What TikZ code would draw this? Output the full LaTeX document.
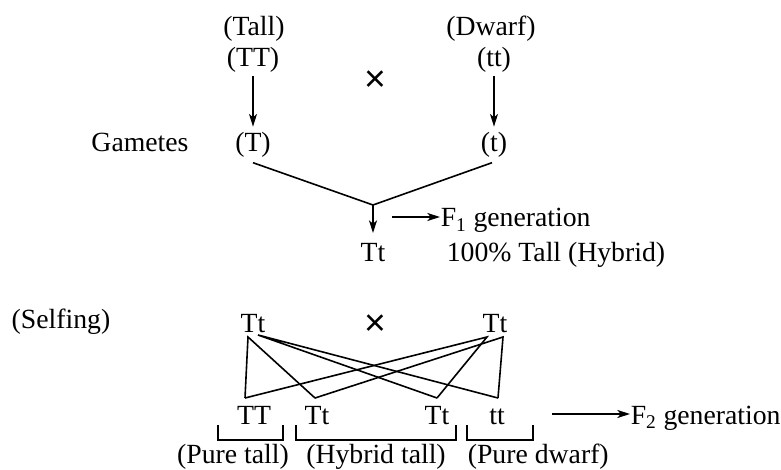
\documentclass[tikz,border=0pt]{standalone}
\usepackage{fontspec}
\setmainfont{Liberation Serif}
\setsansfont{Liberation Sans}
\usetikzlibrary{arrows.meta}
\begin{document}
\begin{tikzpicture}[x=0.75pt,y=-0.75pt,line width=1.2pt,line join=miter,font=\fontsize{20.8}{25}\selectfont,>={Stealth[length=9.5pt,width=6pt,inset=2.5pt]}]
	\useasboundingbox (0,0) rectangle (781,470);
	\tikzset{txt/.style={inner sep=0pt,anchor=base},
		crs/.style={inner sep=0pt,font=\sffamily\fontsize{28}{28}\selectfont}}
	\node[txt] (tall) at (254,36) {(Tall)};
	\node[txt] (dwarf) at (491,36) {(Dwarf)};
	\node[txt] (TT) at (253,67) {(TT)};
	\node[txt] (tt) at (494,67) {(tt)};
	\node[crs] (x1) at (375,81) {×};
	\node[txt] (gam) at (140,152) {Gametes};
	\node[txt] (T) at (253,152) {(T)};
	\node[txt] (t) at (494,152) {(t)};
	\coordinate (v) at (373,205);
	\node[txt] (F1) at (373,262) {Tt};
	\coordinate (s1) at (392,217);
	\node[txt,anchor=base west] (f1) at (440,227) {F\textsubscript{1} generation};
	\node[txt,anchor=base west] (pc) at (446,262) {100\% Tall (Hybrid)};
	\draw[->,shorten <=2pt,shorten >=4pt] (TT.south) -- (T.north);
	\draw[->,shorten <=2pt,shorten >=4pt] (tt.south) -- (t.north);
	\draw ([shift={(0,4)}]T.south) -- (v) -- ([shift={(-2,4)}]t.south);
	\draw[->,shorten >=7.5pt] (v) -- (F1.north);
	\draw[->] (s1) -- (s1 -| f1.west);
	\node[txt] (sf) at (61,328) {(Selfing)};
	\node[txt] (p1) at (253,332) {Tt};
	\node[crs] (x2) at (375,325) {×};
	\node[txt] (p2) at (495,332) {Tt};
	\foreach \n/\x/\s in {c1/254/TT,c2/317/Tt,c3/437/Tt,c4/497/tt}{\node[txt] (\n) at (\x,424) {\s};}
	\coordinate (l1) at ([shift={(-5,5)}]p1.base);
	\coordinate (l2) at ([shift={(5,3)}]p1.base);
	\coordinate (r1) at ([shift={(-8,5)}]p2.base);
	\coordinate (r2) at ([shift={(8,5)}]p2.base);
	\coordinate (k1) at ([shift={(-9,-26)}]c1.base);
	\coordinate (k2) at ([shift={(-2,-26)}]c2.base);
	\coordinate (k3) at ([shift={(0,-26)}]c3.base);
	\coordinate (k4) at ([shift={(1,-26)}]c4.base);
	\draw (k1) -- (l1) -- (k2);
	\draw (k3) -- (l2) -- (k4);
	\draw (k1) -- (r1) -- (k3);
	\draw (k2) -- (r2) -- (k4);
	\foreach \l/\r in {218/283,296/456,467/533}{\draw (\l,425) |- (\r,440) -- (\r,425);}
	\node[txt] (pt) at (233,463) {(Pure tall)};
	\node[txt] (ht) at (376,463) {(Hybrid tall)};
	\node[txt,anchor=base west] (pd) at (467,463) {(Pure dwarf)};
	\coordinate (s2) at (552,414);
	\node[txt,anchor=base west] (f2) at (630,424) {F\textsubscript{2} generation};
	\draw[->] (s2) -- (s2 -| f2.west);
\end{tikzpicture}
\end{document}
